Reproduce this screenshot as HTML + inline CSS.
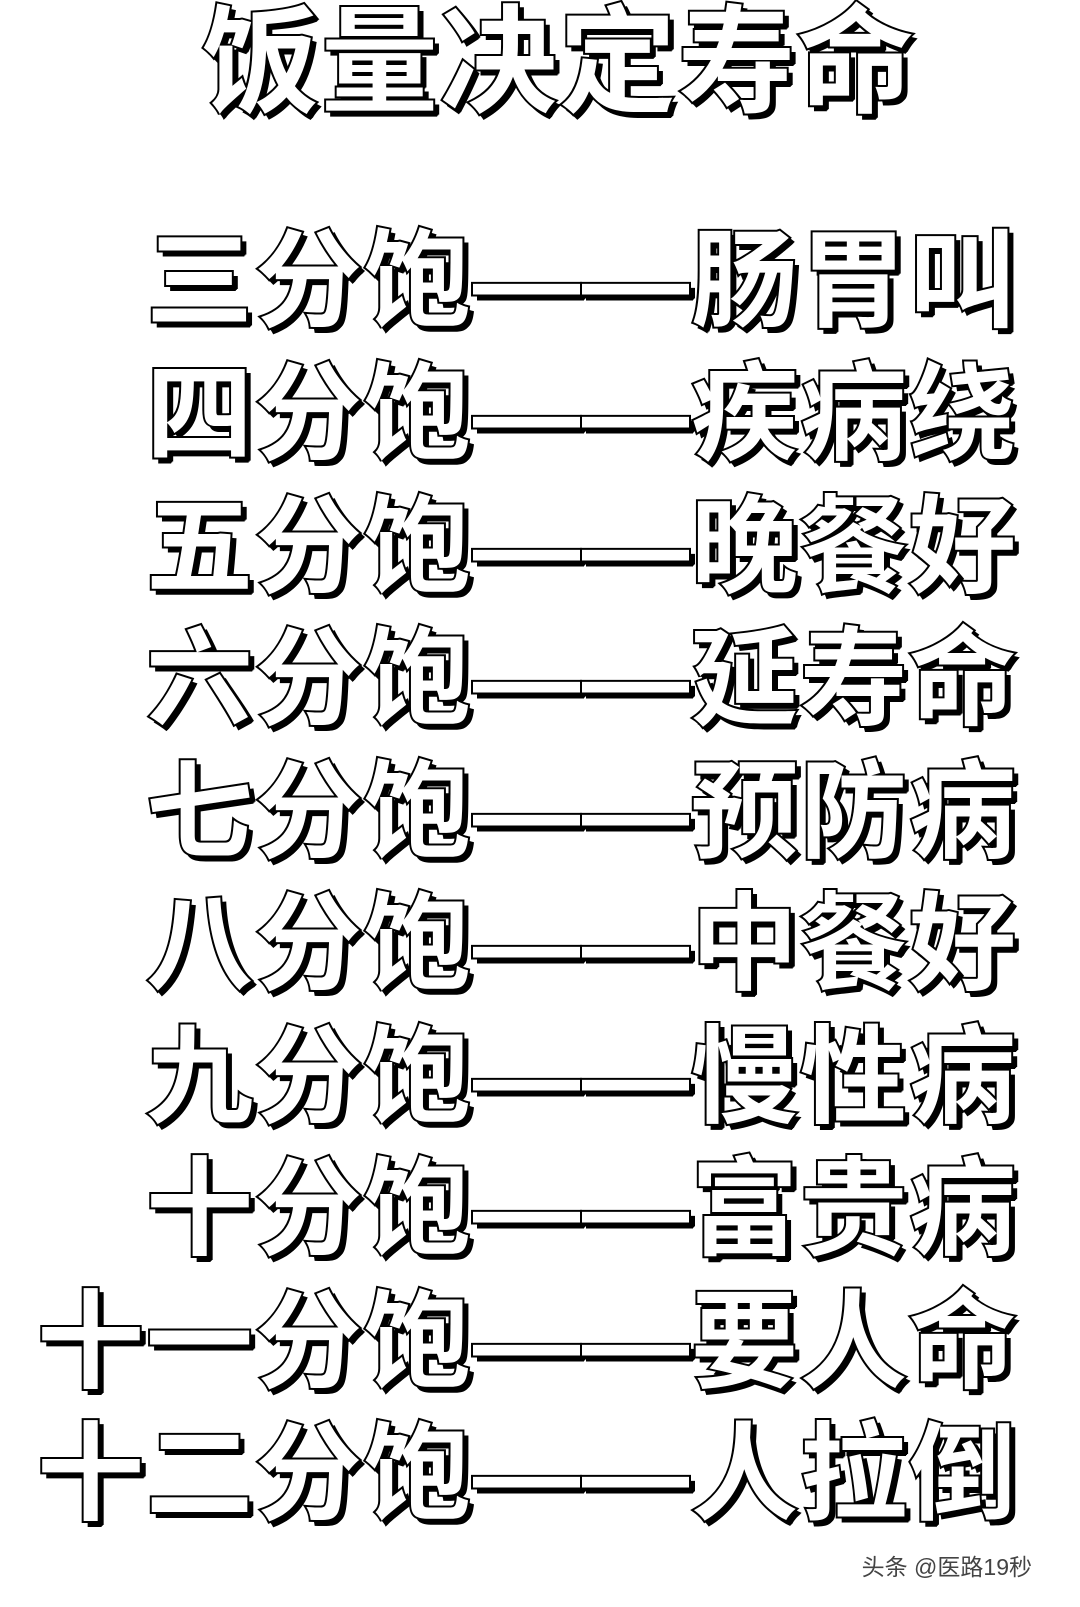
<!DOCTYPE html>
<html><head><meta charset="utf-8">
<style>
html,body{margin:0;padding:0;background:#fff;}
body{width:1080px;height:1607px;position:relative;overflow:hidden;
font-family:"Liberation Sans","Noto Sans CJK SC",sans-serif;}
.t{position:absolute;white-space:nowrap;color:#fff;font-weight:700;
-webkit-text-stroke:4px #000;paint-order:stroke fill;
text-shadow:5px 5px 0 #000,4px 6px 0 #000,6px 4px 0 #000;line-height:1;}
.title{left:202px;top:4px;font-size:117px;letter-spacing:2px;}
.row{right:62px;font-size:107px;letter-spacing:2px;}
.wm{position:absolute;right:48px;top:1548px;font-size:23px;color:#444;}
</style></head><body>
<div class="t title">饭量决定寿命</div>
<div class="t row" style="top:228px">三分饱——肠胃叫</div>
<div class="t row" style="top:361px">四分饱——疾病绕</div>
<div class="t row" style="top:494px">五分饱——晚餐好</div>
<div class="t row" style="top:626px">六分饱——延寿命</div>
<div class="t row" style="top:759px">七分饱——预防病</div>
<div class="t row" style="top:891px">八分饱——中餐好</div>
<div class="t row" style="top:1024px">九分饱——慢性病</div>
<div class="t row" style="top:1156px">十分饱——富贵病</div>
<div class="t row" style="top:1289px">十一分饱——要人命</div>
<div class="t row" style="top:1421px">十二分饱——人拉倒</div>
<div class="wm">头条 @医路19秒</div>
</body></html>
